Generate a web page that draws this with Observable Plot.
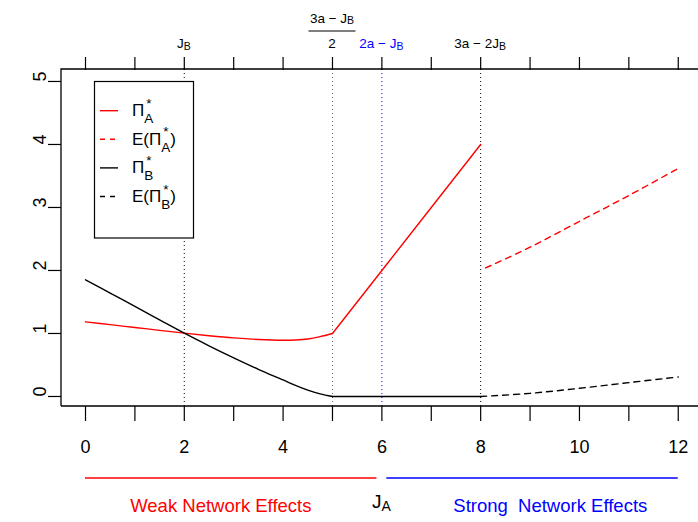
<!DOCTYPE html>
<html><head><meta charset="utf-8">
<script src="https://cdn.jsdelivr.net/npm/d3@7"></script>
<script src="https://cdn.jsdelivr.net/npm/@observablehq/plot@0.6"></script>
<style>body{margin:0;background:#fff} svg{display:block}</style>
</head><body><div id="chart"></div>
<script>
const FONT = "Liberation Sans, Arial, Helvetica, sans-serif";

// axis ticks
const xTicks = [0,1,2,3,4,5,6,7,8,9,10,11,12];
const xLabelTicks = [0,2,4,6,8,10,12];
const yTicks = [0,1,2,3,4,5];

// Pi_A* (solid red)
const piA_x = [0,0.5,1,1.5,2,2.5,3,3.5,4,4.25,4.5,4.75,5,6,7,8];
const piA_y = [1.185,1.14,1.095,1.05,1.005,0.965,0.93,0.905,0.893,0.897,0.913,0.95,1.0,2.0,3.0,4.0];
// Pi_B* (solid black)
const piB_x = [0,0.5,1,1.5,2,2.5,3,3.5,4,4.25,4.5,4.75,5,6,7,8];
const piB_y = [1.852,1.64,1.43,1.217,1.005,0.805,0.614,0.432,0.262,0.175,0.10,0.042,0,0,0,0];
// E(Pi_A*) (dashed red)
const ePiA_x = [8.1,9,10,11,12];
const ePiA_y = [2.04,2.37,2.78,3.19,3.62];
// E(Pi_B*) (dashed black)
const ePiB_x = [8,9,10,11,12];
const ePiB_y = [0,0.05,0.13,0.22,0.31];

// vertical reference lines
const vX = [2,5,6,8];
const vColor = ["black","#666666","blue","black"];

// regions below axis
const regionNames = ["Weak Network Effects","Strong  Network Effects"];
const regionFrom = [0,6.1];
const regionTo = [5.9,12];
const regionCenter = [2.75,9.42];
const regionColor = ["red","blue"];

const lineData = (xs, ys) => xs.map((x,i) => ({x, y: ys[i]}));
const piA = lineData(piA_x, piA_y);
const piB = lineData(piB_x, piB_y);
const ePiA = lineData(ePiA_x, ePiA_y);
const ePiB = lineData(ePiB_x, ePiB_y);
const vlines = vX.map((x,i) => ({x, c: vColor[i]}));

const plot = Plot.plot({
  width: 698, height: 522,
  marginLeft: 61, marginRight: 0, marginTop: 69, marginBottom: 116,
  x: {domain: [-0.486, 12.41], axis: null},
  y: {domain: [-0.159, 5.19], axis: null},
  style: {fontFamily: FONT, background: "white", color: "black"},
  marks: [
    Plot.ruleX(vlines, {x: "x", stroke: "c", strokeDasharray: "1,3", strokeWidth: 1}),
    Plot.line(piA.filter(d => d.x <= 5), {x: "x", y: "y", stroke: "red", strokeWidth: 1.4, curve: "catmull-rom"}),
    Plot.line(piA.filter(d => d.x >= 5), {x: "x", y: "y", stroke: "red", strokeWidth: 1.4}),
    Plot.line(piB.filter(d => d.x <= 5), {x: "x", y: "y", stroke: "black", strokeWidth: 1.4, curve: "catmull-rom"}),
    Plot.line(piB.filter(d => d.x >= 5), {x: "x", y: "y", stroke: "black", strokeWidth: 1.4}),
    Plot.line(ePiA, {x: "x", y: "y", stroke: "red", strokeWidth: 1.4, strokeDasharray: "6,5", curve: "catmull-rom"}),
    Plot.line(ePiB, {x: "x", y: "y", stroke: "black", strokeWidth: 1.4, strokeDasharray: "6,5", curve: "catmull-rom"}),
    Plot.axisX({anchor: "bottom", ticks: xTicks, tickSize: 15, tickPadding: 19, label: null,
      tickFormat: d => xLabelTicks.includes(d) ? String(d) : "", fontSize: 18, strokeWidth: 1.2}),
    Plot.axisX({anchor: "top", ticks: xTicks, tickSize: 13, tickFormat: () => "", label: null, strokeWidth: 1.2}),
    Plot.axisY({ticks: yTicks, tickSize: 13, tickFormat: () => "", label: null, strokeWidth: 1.2}),
    Plot.text(yTicks, {y: d => d, text: d => String(d), frameAnchor: "left", dx: -21, rotate: -90, fontSize: 18})
  ]
});
document.getElementById("chart").append(plot);

const xs = plot.scale("x");
const X = v => xs.apply(v);
const root = d3.select(plot).append("g")
  .attr("font-family", FONT).attr("text-anchor", "start").style("white-space", "pre");

// plot box (left, top, bottom)
root.append("path")
  .attr("d", "M61,406V69H698M61,406H698")
  .attr("fill", "none").attr("stroke", "black").attr("stroke-width", 1.3);

// math-like text helper
function math(parent, x, y, pieces, anchor, color) {
  const grp = parent.append("g").attr("fill", color || "black");
  let cx = 0;
  for (const p of pieces) {
    if (p.sub !== undefined || p.sup !== undefined) {
      let w1 = 0, w2 = 0, subEl = null, supEl = null;
      if (p.sub !== undefined) {
        subEl = grp.append("text").attr("x", cx).attr("y", y + p.subDy).attr("font-size", p.subSize).text(p.sub);
        w1 = subEl.node().getComputedTextLength();
      }
      if (p.sup !== undefined) {
        supEl = grp.append("text").attr("x", cx).attr("y", y + p.supDy).attr("font-size", p.supSize).text(p.sup);
        w2 = supEl.node().getComputedTextLength();
      }
      const w = Math.max(w1, w2);
      if (supEl) supEl.attr("x", cx + (w - w2) / 2);
      cx += w;
    } else {
      const el = grp.append("text").attr("x", cx).attr("y", y).attr("font-size", p.size).text(p.t);
      cx += el.node().getComputedTextLength();
    }
  }
  const sx = anchor === "middle" ? x - cx / 2 : x;
  grp.attr("transform", `translate(${sx},0)`);
  return cx;
}

// top axis labels
const TS = 13.5, SS = 10.5;
math(root, X(2), 48, [{t: "J", size: TS}, {sub: "B", subSize: SS, subDy: 1.5}], "middle");
math(root, X(5), 22.7, [{t: "3a − J", size: TS}, {sub: "B", subSize: SS, subDy: 1.5}], "middle");
root.append("line").attr("x1", X(5) - 23.5).attr("x2", X(5) + 23.5).attr("y1", 31).attr("y2", 31)
  .attr("stroke", "black").attr("stroke-width", 1.2);
math(root, X(5), 48, [{t: "2", size: TS}], "middle");
math(root, X(6), 48, [{t: "2a − J", size: TS}, {sub: "B", subSize: SS, subDy: 1.5}], "middle", "blue");
math(root, X(8), 48, [{t: "3a − 2J", size: TS}, {sub: "B", subSize: SS, subDy: 1.5}], "middle");

// regions under the x axis
regionNames.forEach((name, i) => {
  root.append("line").attr("x1", X(regionFrom[i])).attr("x2", X(regionTo[i]))
    .attr("y1", 478).attr("y2", 478).attr("stroke", regionColor[i]).attr("stroke-width", 1.3);
  root.append("text").attr("x", X(regionCenter[i])).attr("y", 511.5).attr("text-anchor", "middle")
    .attr("font-size", 18.5).attr("fill", regionColor[i]).text(name);
});
math(root, X(6), 508, [{t: "J", size: 19}, {sub: "A", subSize: 14, subDy: 3}], "middle");

// legend
const lg = root.append("g");
lg.append("rect").attr("x", 94.5).attr("y", 81.5).attr("width", 99).attr("height", 156.5)
  .attr("fill", "white").attr("stroke", "black").attr("stroke-width", 1.2);
const legendItems = [
  {color: "red", dash: null, E: false, s: "A"},
  {color: "red", dash: "5,5", E: true, s: "A"},
  {color: "black", dash: null, E: false, s: "B"},
  {color: "black", dash: "5,5", E: true, s: "B"}
];
const LS = 17, LSS = 13.5;
legendItems.forEach((it, i) => {
  const ry = 110.7 + i * 28.6;
  const ln = lg.append("line").attr("x1", 100).attr("x2", 118).attr("y1", ry).attr("y2", ry)
    .attr("stroke", it.color).attr("stroke-width", 1.4);
  if (it.dash) ln.attr("stroke-dasharray", it.dash);
  const by = ry + 5.5;
  const star = {sub: it.s, subSize: LSS, subDy: 6.7, sup: "*", supSize: LSS, supDy: -8.5};
  const pieces = it.E
    ? [{t: "E(Π", size: LS}, star, {t: ")", size: LS}]
    : [{t: "Π", size: LS}, star];
  math(lg, 132, by, pieces, "start");
});
</script>
</body></html>
